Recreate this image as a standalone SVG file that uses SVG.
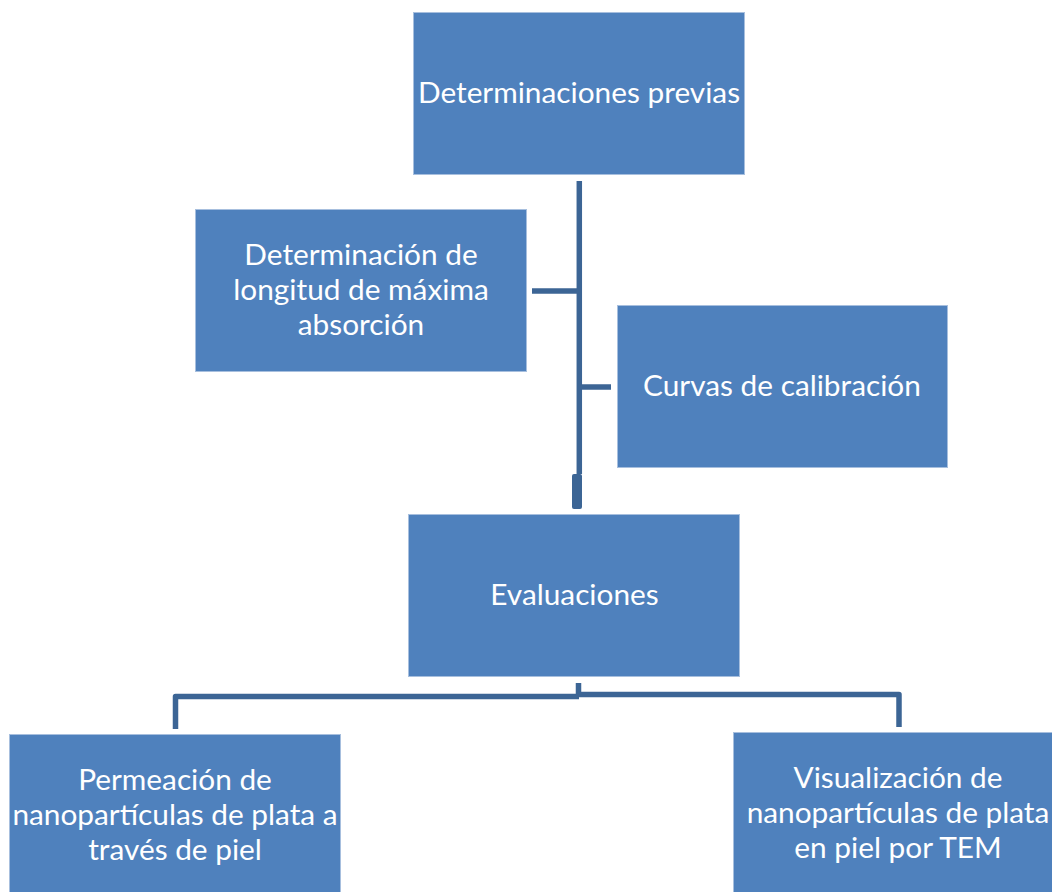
<svg xmlns="http://www.w3.org/2000/svg" width="1052" height="892" viewBox="0 0 1052 892">
<style>
.box{fill:#4F81BD;stroke:#A7BFDE;stroke-width:1}
.t{font-family:Lato,"Open Sans","Liberation Sans",sans-serif;font-size:29.8px;fill:#FFFFFF;text-anchor:middle}
.c{fill:none;stroke:#3C6595;stroke-width:5.5;stroke-linejoin:round}
</style>
<rect width="1052" height="892" fill="#FFFFFF"/>
<g id="connectors">
<path class="c" d="M579.3,181 V474"/>
<rect x="572" y="474" width="10" height="35" rx="2" fill="#3C6595"/>
<path class="c" d="M532,291 H579"/>
<path class="c" d="M580,387 H611"/>
<path class="c" d="M175.5,729 V696.5 H579"/>
<path class="c" d="M578.5,683 V694.5 H899 V727"/>
</g>
<g id="n1">
<rect class="box" x="413.5" y="12.5" width="331" height="162"/>
<text class="t" x="579" y="103">Determinaciones previas</text>
</g>
<g id="n2">
<rect class="box" x="195.5" y="209.5" width="331" height="162"/>
<text class="t" x="361" y="265">Determinación de</text>
<text class="t" x="361" y="300">longitud de máxima</text>
<text class="t" x="361" y="335">absorción</text>
</g>
<g id="n3">
<rect class="box" x="617.5" y="305.5" width="330" height="162"/>
<text class="t" x="782" y="396">Curvas de calibración</text>
</g>
<g id="n4">
<rect class="box" x="408.5" y="514.5" width="331" height="162"/>
<text class="t" x="574.5" y="605">Evaluaciones</text>
</g>
<g id="n5">
<rect class="box" x="9.5" y="734.5" width="331" height="170"/>
<text class="t" x="175" y="790">Permeación de</text>
<text class="t" x="175" y="825">nanopartículas de plata a</text>
<text class="t" x="175" y="860">través de piel</text>
</g>
<g id="n6">
<rect class="box" x="733.5" y="732.5" width="331" height="170"/>
<text class="t" x="898" y="788">Visualización de</text>
<text class="t" x="898" y="823">nanopartículas de plata</text>
<text class="t" x="898" y="858">en piel por TEM</text>
</g>
</svg>
